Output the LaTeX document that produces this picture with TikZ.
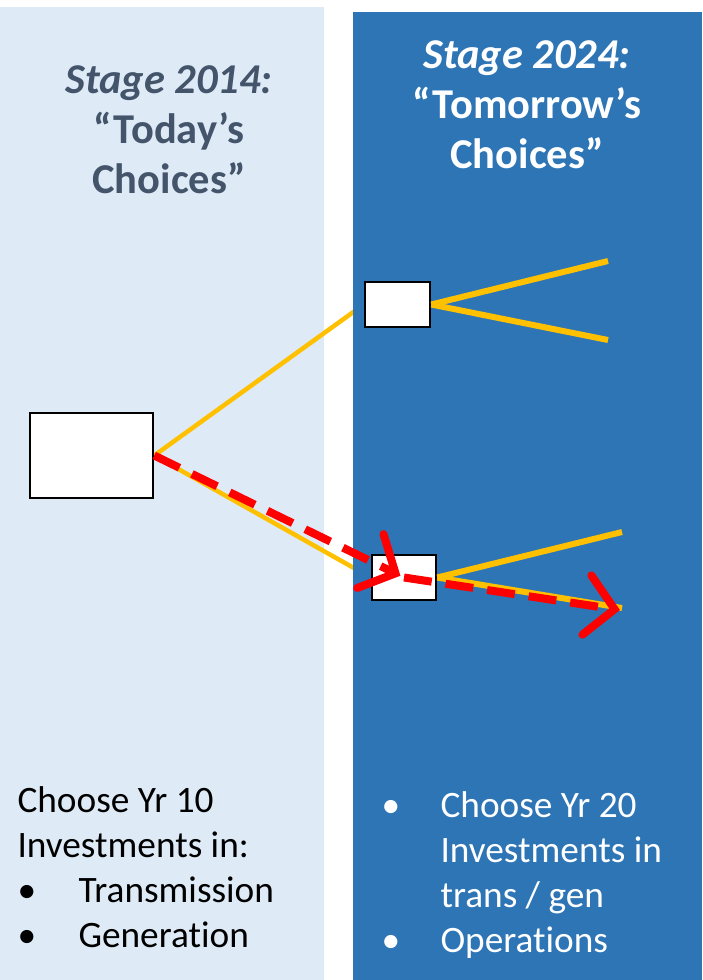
\documentclass[tikz,border=0pt]{standalone}
\usepackage{fontspec}
\setmainfont{Carlito}[Ligatures=CommonOff]
\usetikzlibrary{arrows.meta}
\definecolor{lightpanel}{HTML}{DEEBF7}
\definecolor{darkpanel}{HTML}{2E75B6}
\definecolor{titlegray}{HTML}{44546A}
\definecolor{gold}{HTML}{FFC000}
\definecolor{arrowred}{HTML}{FF0000}
\pgfdeclarelayer{bg}
\pgfdeclarelayer{mid}
\pgfsetlayers{bg,mid,main}
\tikzset{
  choicebox/.style={draw=black, line width=2.5pt, fill=white, inner sep=0pt},
  branch/.style={draw=gold, line width=6pt},
  thinbranch/.style={draw=gold, line width=4.5pt},
  redpath/.style={draw=arrowred, line width=8pt, dash pattern=on 28pt off 14pt,
    -{Straight Barb[length=28pt, width=60pt, line width=8pt, line cap=round]}},
  titletext/.style={align=center, font=\fontsize{42.5}{50}\selectfont\bfseries},
  bodytext/.style={anchor=base west, font=\fontsize{37.3}{44}\selectfont},
}
\begin{document}
\begin{tikzpicture}[x=1pt,y=-1pt]
\useasboundingbox (0,0) rectangle (702,980);
% nodes
\node[choicebox, minimum width=123pt, minimum height=85pt] (big) at (91.5,455.5) {};
\node[choicebox, minimum width=65pt, minimum height=45pt] (top) at (397.5,304.5) {};
\node[choicebox, minimum width=64pt, minimum height=45pt] (bot) at (404,577.5) {};
\coordinate (t1) at (608,261);
\coordinate (t2) at (608,340);
\coordinate (b1) at (622,532);
\coordinate (b2) at (622,608);
\coordinate (rend) at (620,610);
\begin{pgfonlayer}{bg}
  \fill[white] (0,0) rectangle (702,980);
  \fill[lightpanel] (0,7) rectangle (324,980);
  \draw[thinbranch] (big.east) -- (top.west);
  \draw[thinbranch] (big.east) -- (bot.west);
\end{pgfonlayer}
\begin{pgfonlayer}{mid}
  \fill[darkpanel] (353,12) rectangle (702,980);
\end{pgfonlayer}
\draw[branch] (top.east) -- (t1);
\draw[branch] (top.east) -- (t2);
\draw[branch] (bot.east) -- (b1);
\draw[branch] (bot.east) -- (b2);
\draw[redpath, shorten >=4pt] (big.east) -- (bot.center);
\draw[redpath] (bot.center) -- (rend);
% titles
\node[titletext, text=titlegray] (ltitle) at (169,130) {\textit{Stage 2014:}\\“Today’s\\Choices”};
\node[titletext, text=white] (rtitle) at (527,105) {\textit{Stage 2024:}\\“Tomorrow’s\\Choices”};
% bottom texts
\node[bodytext] (l1) at (14,812) {Choose Yr 10};
\node[bodytext] (l2) at (14,857) {Investments in:};
\node[bodytext] (l3b) at (14,902) {•};
\node[bodytext] (l3) at (75,902) {Transmission};
\node[bodytext] (l4b) at (14,947) {•};
\node[bodytext] (l4) at (75,947) {Generation};
\node[bodytext, text=white] (r1b) at (378,817) {•};
\node[bodytext, text=white] (r1) at (437,817) {Choose Yr 20};
\node[bodytext, text=white] (r2) at (437,862) {Investments in};
\node[bodytext, text=white] (r3) at (437,907) {trans / gen};
\node[bodytext, text=white] (r4b) at (378,952) {•};
\node[bodytext, text=white] (r4) at (437,952) {Operations};
\end{tikzpicture}
\end{document}
